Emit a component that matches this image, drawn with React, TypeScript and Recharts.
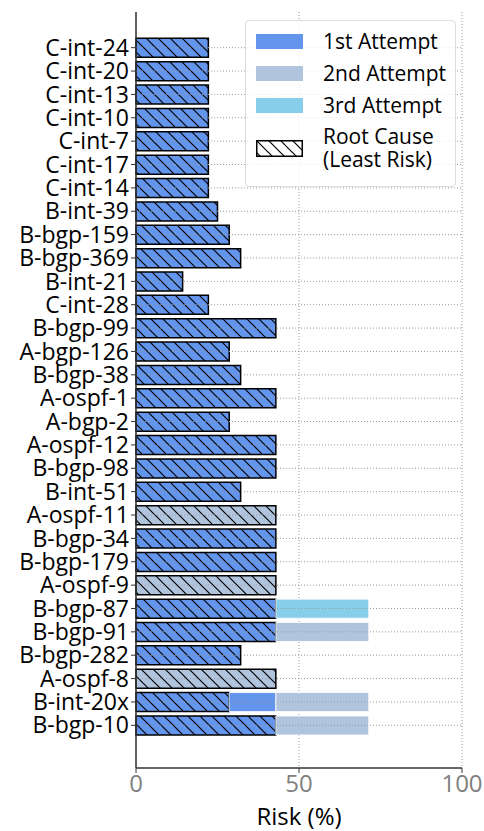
import React from 'react';
import {
  BarChart, Bar, XAxis, YAxis, CartesianGrid, ReferenceLine,
} from 'recharts';

const categories = [
  'C-int-24', 'C-int-20', 'C-int-13', 'C-int-10', 'C-int-7', 'C-int-17', 'C-int-14',
  'B-int-39', 'B-bgp-159', 'B-bgp-369', 'B-int-21', 'C-int-28', 'B-bgp-99', 'A-bgp-126',
  'B-bgp-38', 'A-ospf-1', 'A-bgp-2', 'A-ospf-12', 'B-bgp-98', 'B-int-51', 'A-ospf-11',
  'B-bgp-34', 'B-bgp-179', 'A-ospf-9', 'B-bgp-87', 'B-bgp-91', 'B-bgp-282', 'A-ospf-8',
  'B-int-20x', 'B-bgp-10',
];

// 1st attempt, root cause part (hatched)
const firstRoot = [
  22.2, 22.2, 22.2, 22.2, 22.2, 22.2, 22.2, 25, 28.6, 32.1, 14.3, 22.2, 42.9, 28.6,
  32.1, 42.9, 28.6, 42.9, 42.9, 32.1, 0, 42.9, 42.9, 0, 42.9, 42.9, 32.1, 0, 28.6, 42.9,
];
// 1st attempt, rest (plain)
const firstRest = [
  0, 0, 0, 0, 0, 0, 0, 0, 0, 0, 0, 0, 0, 0,
  0, 0, 0, 0, 0, 0, 0, 0, 0, 0, 0, 0, 0, 0, 14.3, 0,
];
// 2nd attempt, root cause part (hatched)
const secondRoot = [
  0, 0, 0, 0, 0, 0, 0, 0, 0, 0, 0, 0, 0, 0,
  0, 0, 0, 0, 0, 0, 42.9, 0, 0, 42.9, 0, 0, 0, 42.9, 0, 0,
];
const secondRest = [
  0, 0, 0, 0, 0, 0, 0, 0, 0, 0, 0, 0, 0, 0,
  0, 0, 0, 0, 0, 0, 0, 0, 0, 0, 0, 28.5, 0, 0, 28.5, 28.5,
];
const thirdRest = [
  0, 0, 0, 0, 0, 0, 0, 0, 0, 0, 0, 0, 0, 0,
  0, 0, 0, 0, 0, 0, 0, 0, 0, 0, 28.5, 0, 0, 0, 0, 0,
];

const xTicks = [0, 50, 100];

const data = categories.map((name, i) => ({
  name,
  firstRoot: firstRoot[i],
  firstRest: firstRest[i],
  secondRoot: secondRoot[i],
  secondRest: secondRest[i],
  thirdRest: thirdRest[i],
}));

const C1 = '#6495ED';
const C2 = '#B0C4DE';
const C3 = '#87CEEB';
const FONT = '"Open Sans", sans-serif';

const Hatch = ({ id, color }: { id: string, color: string }) => (
  <pattern id={id} patternUnits="userSpaceOnUse" width={12} height={12}>
    <rect width={12} height={12} fill={color} />
    <path d="M-3,9 l6,6 M0,0 l12,12 M9,-3 l6,6" stroke="#000" strokeWidth={1.2} />
  </pattern>
);

const LegendItem = ({ top, color, label }: { top: number, color: string, label: string }) => (
  <div style={{ position: 'absolute', left: 0, top, display: 'flex', alignItems: 'center' }}>
    <div style={{ width: 47, height: 15, background: color, marginLeft: 10 }} />
    <span style={{ marginLeft: 20, fontSize: 21, lineHeight: '24px' }}>{label}</span>
  </div>
);

const App = () => (
  <div style={{ position: 'relative', width: 484, height: 831, fontFamily: FONT }}>
    <style>{'body{margin:0}'}</style>
    <BarChart
      width={484}
      height={831}
      data={data}
      layout="vertical"
      margin={{ top: 12, right: 22, bottom: 0, left: 0 }}
      barCategoryGap="10%"
    >
      <defs>
        <Hatch id="hatch1" color={C1} />
        <Hatch id="hatch2" color={C2} />
      </defs>
      <CartesianGrid horizontal={false} stroke="#999" strokeDasharray="1 2" />
      <XAxis
        type="number"
        domain={[0, 100]}
        ticks={xTicks}
        height={63}
        axisLine={{ stroke: '#333', strokeWidth: 1.5 }}
        tickLine={{ stroke: '#333' }}
        tickSize={5}
        tick={{ fill: '#808080', fontSize: 24, fontFamily: FONT }}
      />
      <YAxis
        type="category"
        dataKey="name"
        width={136}
        interval={0}
        padding={{ top: 24, bottom: 31 }}
        axisLine={{ stroke: '#333', strokeWidth: 1.5 }}
        tickLine={{ stroke: '#333' }}
        tickSize={5}
        tick={{ fill: '#000', fontSize: 23, fontFamily: FONT }}
      />
      <Bar dataKey="firstRoot" stackId="a" fill="url(#hatch1)" stroke="#000" strokeWidth={1.5} isAnimationActive={false} />
      <Bar dataKey="firstRest" stackId="a" fill={C1} stroke="#fff" strokeWidth={0.8} isAnimationActive={false} />
      <Bar dataKey="secondRoot" stackId="a" fill="url(#hatch2)" stroke="#000" strokeWidth={1.5} isAnimationActive={false} />
      <Bar dataKey="secondRest" stackId="a" fill={C2} stroke="#fff" strokeWidth={0.8} isAnimationActive={false} />
      <Bar dataKey="thirdRest" stackId="a" fill={C3} stroke="#fff" strokeWidth={0.8} isAnimationActive={false} />
      {categories.map((c) => (
        <ReferenceLine key={c} y={c} stroke="#999" strokeDasharray="1 2" />
      ))}
    </BarChart>
    <div style={{
      position: 'absolute', left: 245, top: 20, width: 211, height: 167,
      border: '1px solid #ddd', borderRadius: 4, background: 'rgba(255,255,255,0.8)', boxSizing: 'border-box',
    }}>
      <LegendItem top={8} color={C1} label="1st Attempt" />
      <LegendItem top={40} color={C2} label="2nd Attempt" />
      <LegendItem top={72} color={C3} label="3rd Attempt" />
      <div style={{ position: 'absolute', left: 0, top: 104, display: 'flex', alignItems: 'center' }}>
        <svg width={47} height={17} style={{ marginLeft: 10 }}>
          <defs>
            <pattern id="hatchL" patternUnits="userSpaceOnUse" width={12} height={12}>
              <path d="M-3,9 l6,6 M0,0 l12,12 M9,-3 l6,6" stroke="#000" strokeWidth={1.2} />
            </pattern>
          </defs>
          <rect x={0.75} y={0.75} width={45.5} height={15.5} fill="url(#hatchL)" stroke="#000" strokeWidth={1.5} />
        </svg>
        <span style={{ marginLeft: 20, fontSize: 21, lineHeight: '23px' }}>Root Cause<br />(Least Risk)</span>
      </div>
    </div>
    <div style={{ position: 'absolute', left: 136, width: 326, top: 799, textAlign: 'center', fontSize: 24 }}>
      Risk (%)
    </div>
  </div>
);

export default App;
